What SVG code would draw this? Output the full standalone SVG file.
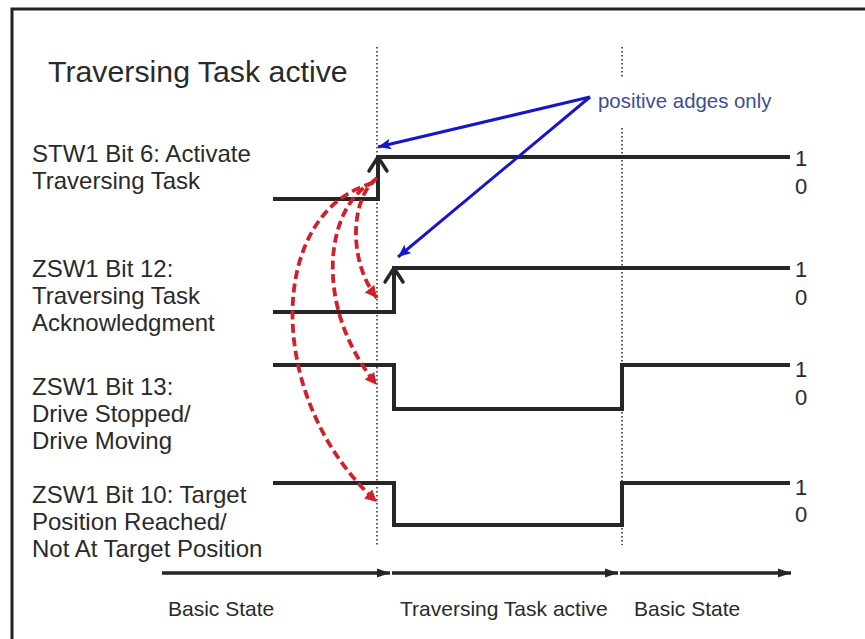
<svg xmlns="http://www.w3.org/2000/svg" width="865" height="639" viewBox="0 0 865 639">
<defs>
<style>
text{font-family:"Liberation Sans",Arial,sans-serif;fill:#2a2a2a}
.lbl{font-size:24px}
.title{font-size:30.3px}
.bit{font-size:22px}
.state{font-size:21px}
.note{font-size:20.4px;fill:#3d4f8f}
.sig{fill:none;stroke:#262626;stroke-width:4;stroke-linejoin:miter}
.chev{fill:none;stroke:#262626;stroke-width:3.5;stroke-linecap:round;stroke-linejoin:round}
.dot{stroke:#333;stroke-width:1.6;stroke-dasharray:1.6 2.4}
.axis{stroke:#262626;stroke-width:3.5}
.blue{fill:none;stroke:#1515cc;stroke-width:3}
.red{fill:none;stroke:#d0202a;stroke-width:3.8;stroke-dasharray:9 4.5}
</style>
<marker id="ah" markerUnits="userSpaceOnUse" markerWidth="14" markerHeight="12" refX="13" refY="6" orient="auto"><path d="M0,1.5 L13,6 L0,10.5 Z" fill="#262626"/></marker>
<marker id="bh" markerUnits="userSpaceOnUse" markerWidth="14" markerHeight="12" refX="13" refY="6" orient="auto"><path d="M0,0.5 L13,6 L0,11.5 L3,6 Z" fill="#1515cc"/></marker>
<marker id="rh" markerUnits="userSpaceOnUse" markerWidth="14" markerHeight="14" refX="12" refY="7" orient="auto"><path d="M0,1 L12,7 L0,13 Z" fill="#d0202a"/></marker>
</defs>
<rect x="0" y="0" width="865" height="639" fill="#fff"/>
<path d="M12,660 V9 H880" fill="none" stroke="#222" stroke-width="3"/>
<g id="title"><text class="title" x="48" y="82">Traversing Task active</text></g>
<g id="guides">
<line class="dot" x1="377" y1="47" x2="377" y2="545"/>
<line class="dot" x1="622" y1="47" x2="622" y2="77"/>
<line class="dot" x1="622" y1="128" x2="622" y2="545"/>
</g>
<g id="stw1-bit6">
<text class="lbl" x="32" y="162">STW1 Bit 6: Activate</text>
<text class="lbl" x="32" y="189">Traversing Task</text>
<path class="sig" d="M273,199 H378 V157 H790"/>
<path class="chev" d="M369,171 L378,157 L387,171"/>
<text class="bit" x="795" y="166">1</text>
<text class="bit" x="795" y="194">0</text>
</g>
<g id="zsw1-bit12">
<text class="lbl" x="32" y="277">ZSW1 Bit 12:</text>
<text class="lbl" x="32" y="304">Traversing Task</text>
<text class="lbl" x="32" y="331">Acknowledgment</text>
<path class="sig" d="M273,312 H394 V268 H790"/>
<path class="chev" d="M385,282 L394,268 L403,282"/>
<text class="bit" x="795" y="277">1</text>
<text class="bit" x="795" y="305">0</text>
</g>
<g id="zsw1-bit13">
<text class="lbl" x="32" y="395">ZSW1 Bit 13:</text>
<text class="lbl" x="32" y="422">Drive Stopped/</text>
<text class="lbl" x="32" y="449">Drive Moving</text>
<path class="sig" d="M273,365 H394 V409 H622 V365 H790"/>
<text class="bit" x="795" y="377">1</text>
<text class="bit" x="795" y="405">0</text>
</g>
<g id="zsw1-bit10">
<text class="lbl" x="32" y="503">ZSW1 Bit 10: Target</text>
<text class="lbl" x="32" y="530">Position Reached/</text>
<text class="lbl" x="32" y="557">Not At Target Position</text>
<path class="sig" d="M273,483 H394 V525 H622 V483 H790"/>
<text class="bit" x="795" y="495">1</text>
<text class="bit" x="795" y="522">0</text>
</g>
<g id="note"><text class="note" x="598" y="108">positive adges only</text></g>
<g id="states">
<text class="state" x="168" y="616">Basic State</text>
<text class="state" x="400" y="616">Traversing Task active</text>
<text class="state" x="634" y="616">Basic State</text>
</g>
<g id="connectors">
<line class="axis" x1="162" y1="573" x2="390" y2="573" marker-end="url(#ah)"/>
<line class="axis" x1="392" y1="573" x2="618" y2="573" marker-end="url(#ah)"/>
<line class="axis" x1="620" y1="573" x2="791" y2="573" marker-end="url(#ah)"/>
<line class="blue" x1="590" y1="97" x2="378" y2="147" marker-end="url(#bh)"/>
<line class="blue" x1="590" y1="97" x2="398" y2="257" marker-end="url(#bh)"/>
<path class="red" d="M377,178 C350,198 348,262 377,298" marker-end="url(#rh)"/>
<path class="red" d="M375,181 C326,203 311,305 377,385" marker-end="url(#rh)"/>
<path class="red" d="M373,183 C266,212 264,400 377,502" marker-end="url(#rh)"/>
</g>
</svg>
